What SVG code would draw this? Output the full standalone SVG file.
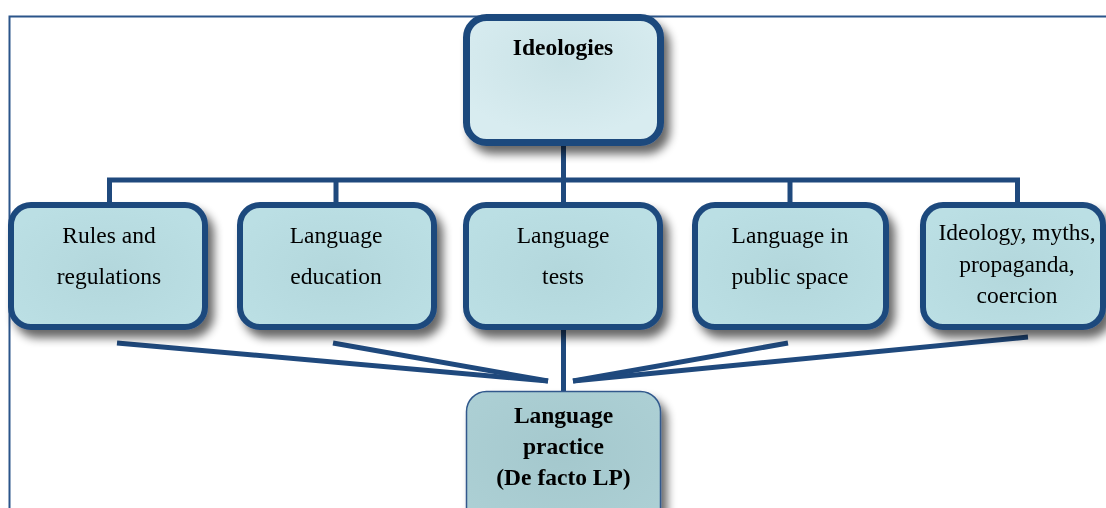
<svg xmlns="http://www.w3.org/2000/svg" width="1106" height="508" viewBox="0 0 1106 508">
  <defs>
    <filter id="shadow" x="-20%" y="-20%" width="150%" height="160%">
      <feGaussianBlur in="SourceAlpha" stdDeviation="5"/>
      <feOffset dx="6" dy="8" result="b"/>
      <feComponentTransfer><feFuncA type="linear" slope="0.6"/></feComponentTransfer>
      <feMerge><feMergeNode/><feMergeNode in="SourceGraphic"/></feMerge>
    </filter>
    <radialGradient id="gTop" cx="0.5" cy="0.35" r="0.6">
      <stop offset="0" stop-color="#c9e2e6"/>
      <stop offset="1" stop-color="#d8ecf0"/>
    </radialGradient>
    <radialGradient id="gRow" cx="0.5" cy="0.55" r="0.6">
      <stop offset="0" stop-color="#b3d7dc"/>
      <stop offset="1" stop-color="#bbdfe4"/>
    </radialGradient>
    <radialGradient id="gBot" cx="0.5" cy="0.45" r="0.6">
      <stop offset="0" stop-color="#a4c8cd"/>
      <stop offset="1" stop-color="#accfd4"/>
    </radialGradient>
  </defs>
  <style>
    .frame { fill: none; stroke: #2b558a; stroke-width: 2; }
    .conn { fill: none; stroke: #1f497d; stroke-width: 5; stroke-linejoin: miter; stroke-linecap: butt; }
    .top { fill: url(#gTop); stroke: #1f497d; stroke-width: 7; }
    .row { fill: url(#gRow); stroke: #1f497d; stroke-width: 6; }
    .bot { fill: url(#gBot); stroke: #30598c; stroke-width: 1.5; }
    .t { font-family: "Liberation Serif", "Times New Roman", serif; font-size: 23.5px; fill: #000; text-anchor: middle; }
    .b { font-weight: bold; }
  </style>
  <g id="frame">
    <path class="frame" d="M9.5,508 V16.5 H1106"/>
  </g>
  <g id="connectors">
    <path class="conn" d="M109.5,205 V180 H1017.5 V205"/>
    <path class="conn" d="M336,180 V205"/>
    <path class="conn" d="M790,180 V205"/>
    <path class="conn" d="M563.5,145 V205"/>
    <path class="conn" d="M563.5,329 V392"/>
    <path class="conn" d="M117,343 L548,381"/>
    <path class="conn" d="M333,343 L548,381"/>
    <path class="conn" d="M788,343 L573,381"/>
    <path class="conn" d="M1028,337 L573,381"/>
  </g>
  <g id="ideologies" filter="url(#shadow)">
    <rect class="top" x="466.5" y="17.5" width="194" height="125" rx="20"/>
    <text class="t b" x="563" y="55">Ideologies</text>
  </g>
  <g id="rules" filter="url(#shadow)">
    <rect class="row" x="11" y="205" width="194" height="122" rx="20"/>
    <text class="t" x="109" y="243">Rules and</text>
    <text class="t" x="109" y="284">regulations</text>
  </g>
  <g id="education" filter="url(#shadow)">
    <rect class="row" x="240" y="205" width="194" height="122" rx="20"/>
    <text class="t" x="336" y="243">Language</text>
    <text class="t" x="336" y="284">education</text>
  </g>
  <g id="tests" filter="url(#shadow)">
    <rect class="row" x="466" y="205" width="194" height="122" rx="20"/>
    <text class="t" x="563" y="243">Language</text>
    <text class="t" x="563" y="284">tests</text>
  </g>
  <g id="public" filter="url(#shadow)">
    <rect class="row" x="695" y="205" width="191" height="122" rx="20"/>
    <text class="t" x="790" y="243">Language in</text>
    <text class="t" x="790" y="284">public space</text>
  </g>
  <g id="ideology" filter="url(#shadow)">
    <rect class="row" x="923" y="205" width="180" height="122" rx="20"/>
    <text class="t" x="1017" y="240">Ideology, myths,</text>
    <text class="t" x="1017" y="272">propaganda,</text>
    <text class="t" x="1017" y="303">coercion</text>
  </g>
  <g id="practice" filter="url(#shadow)">
    <rect class="bot" x="466.5" y="391.5" width="194" height="140" rx="20"/>
    <text class="t b" x="563.5" y="423">Language</text>
    <text class="t b" x="563.5" y="454">practice</text>
    <text class="t b" x="563.5" y="485">(De facto LP)</text>
  </g>
</svg>
